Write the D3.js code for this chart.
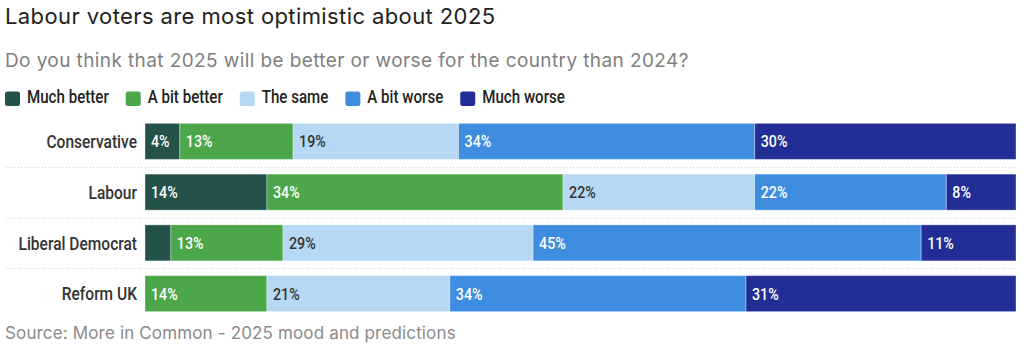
<!DOCTYPE html>
<html><head><meta charset="utf-8">
<script src="https://cdn.jsdelivr.net/npm/d3@7"></script>
<style>body{margin:0;background:#fff}svg{display:block}</style>
</head><body>
<svg id="c" width="1024" height="356"></svg>
<script>
const categories = ["Conservative", "Labour", "Liberal Democrat", "Reform UK"];
const seriesNames = ["Much better", "A bit better", "The same", "A bit worse", "Much worse"];
const muchBetter = [4, 14, 3, 0];
const aBitBetter = [13, 34, 13, 14];
const theSame = [19, 22, 29, 21];
const aBitWorse = [34, 22, 45, 34];
const muchWorse = [30, 8, 11, 31];
const colors = ["#23524b", "#4ca64a", "#b5d8f4", "#3f8de0", "#222e96"];
const labelColors = ["#fff", "#fff", "#333", "#fff", "#fff"];
const seriesValues = [muchBetter, aBitBetter, theSame, aBitWorse, muchWorse];

const svg = d3.select("#c");
const left = 145, right = 1016;
const cond = "Roboto,'Noto Sans',sans-serif";
const SX = 0.84;
const sans = "Inter,'Noto Sans',sans-serif";

// condensed text helper: horizontally scaled
function ctext(parent, x, y, str, size, fill, anchor) {
  const g = parent.append("g").attr("transform", `translate(${x},${y}) scale(${SX},1)`);
  const t = g.append("text").attr("x", 0).attr("y", 0).attr("dy", "0.36em")
    .attr("font-family", cond).attr("font-weight", 500).attr("font-size", size)
    .attr("fill", fill).attr("text-anchor", anchor || "start").text(str);
  return t.node().getComputedTextLength() * SX;
}

svg.append("text").attr("x", 5).attr("y", 24).attr("font-family", sans)
  .attr("font-size", 22).attr("letter-spacing", 0.4).attr("fill", "#222").text("Labour voters are most optimistic about 2025");
svg.append("text").attr("x", 5).attr("y", 67).attr("font-family", sans)
  .attr("font-size", 19).attr("letter-spacing", 0.4).attr("fill", "#808080").text("Do you think that 2025 will be better or worse for the country than 2024?");

// legend
const legend = svg.append("g");
let lx = 5;
seriesNames.forEach((n, i) => {
  legend.append("rect").attr("x", lx).attr("y", 91.5).attr("width", 15).attr("height", 14.5).attr("rx", 2.5).attr("fill", colors[i]);
  const w = ctext(legend, lx + 22, 96.5, n, 18, "#222");
  lx += 22 + w + 17;
});

// data rows
const rows = categories.map((c, r) => {
  const vals = seriesValues.map(s => s[r]);
  const total = d3.sum(vals);
  let acc = 0;
  const segs = vals.map((v, i) => { const s = {i, v, x0: acc / total, x1: (acc + v) / total}; acc += v; return s; });
  return {c, segs};
});

const x = d3.scaleLinear().domain([0, 1]).range([left, right]);
const y = d3.scaleBand().domain(categories).range([116, 319]).paddingInner(0.29).paddingOuter(0.145);

// separators
for (let r = 1; r < categories.length; r++) {
  const yy = Math.round(y(categories[r]) - y.step() * y.paddingInner() / 2) + 0.5;
  svg.append("line").attr("x1", 6).attr("x2", right).attr("y1", yy).attr("y2", yy)
    .attr("stroke", "#cfcfcf").attr("stroke-width", 1).attr("stroke-dasharray", "1,2");
}

const rowG = svg.selectAll("g.row").data(rows).join("g").attr("class", "row")
  .attr("transform", d => `translate(0,${y(d.c)})`);

rowG.each(function(d) { ctext(d3.select(this), left - 8, y.bandwidth() / 2, d.c, 18.5, "#333", "end"); });

rowG.selectAll("rect.seg").data(d => d.segs.filter(s => s.v > 0)).join("rect").attr("class", "seg")
  .attr("x", s => x(s.x0)).attr("width", s => x(s.x1) - x(s.x0))
  .attr("y", 0).attr("height", y.bandwidth()).attr("fill", s => colors[s.i])
  .attr("stroke", "rgba(255,255,255,0.35)").attr("stroke-width", 1);

rowG.each(function(d) {
  const g = d3.select(this);
  d.segs.filter(s => s.v >= 4).forEach(s => ctext(g, x(s.x0) + 6, y.bandwidth() / 2, s.v + "%", 17, labelColors[s.i]));
});

svg.append("text").attr("x", 5).attr("y", 339).attr("font-family", sans)
  .attr("font-size", 17).attr("letter-spacing", 0.15).attr("fill", "#8a8a8a").text("Source: More in Common - 2025 mood and predictions");
</script>
</body></html>
